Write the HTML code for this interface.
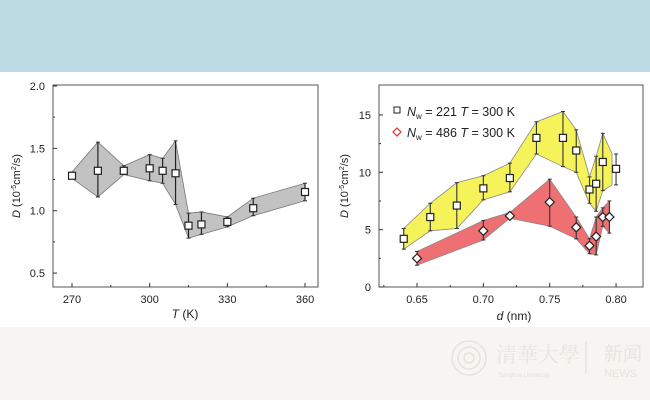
<!DOCTYPE html>
<html><head><meta charset="utf-8"><style>
body{margin:0;width:650px;height:400px;overflow:hidden;background:#fff;font-family:"Liberation Sans",Arial,sans-serif}
</style></head><body>
<svg id="s" width="650" height="400" xmlns="http://www.w3.org/2000/svg" font-family="Liberation Sans, Arial, sans-serif">
<rect x="0" y="0" width="650" height="72" fill="#bddbe3"/>
<rect x="0" y="72" width="650" height="255" fill="#fff"/>
<rect x="0" y="327" width="650" height="73" fill="#f7f5f1"/>
<g fill="none" stroke="#e6e2dc" stroke-width="1.5">
<circle cx="469" cy="358" r="17"/><circle cx="469" cy="358" r="11"/><circle cx="469" cy="358" r="5"/>
<line x1="586" y1="342" x2="586" y2="374"/>
</g>
<text x="496" y="362" font-size="21" fill="#e8e4de" font-family="Noto Serif CJK SC, serif">清華大學</text>
<text x="498" y="377" font-size="6" fill="#e3dfd8">Tsinghua University</text>
<text x="604" y="360" font-size="19" fill="#e8e4de" font-family="Noto Sans CJK SC, sans-serif">新闻</text>
<text x="604" y="377" font-size="11" fill="#e8e4de">NEWS</text>
<g id="g"></g>
</svg>
<script>
const g=document.getElementById('g');let h='';
function ln(a,b,c,d,w,col){h+=`<line x1="${a}" y1="${b}" x2="${c}" y2="${d}" stroke="${col||'#333'}" stroke-width="${w||1}"/>`;}
function tx(x,y,t,o){h+=`<text x="${x}" y="${y}" font-size="${o&&o.fs||11}" text-anchor="${o&&o.a||'middle'}" fill="#222">${t}</text>`;}
const LX=t=>72+(t-270)*2.589, LY=v=>86+(2-v)*124.7;
h+=`<rect x="53" y="85" width="265" height="202" fill="none" stroke="#555" stroke-width="1"/>`;
const L=[[270,1.28,1.26,1.31],[280,1.32,1.11,1.55],[290,1.32,1.29,1.36],[300,1.34,1.24,1.45],[305,1.32,1.22,1.42],[310,1.30,1.05,1.56],[315,0.88,0.78,0.98],[320,0.89,0.81,0.99],[330,0.91,0.87,0.95],[340,1.02,0.96,1.10],[360,1.15,1.08,1.22]];
let p=L.map(d=>LX(d[0])+','+LY(d[3])).concat(L.slice().reverse().map(d=>LX(d[0])+','+LY(d[2])));
h+=`<polygon points="${p.join(' ')}" fill="#c2c2c2" stroke="#777" stroke-width="0.8"/>`;
[2.0,1.5,1.0,0.5].forEach(v=>{ln(53,LY(v),57,LY(v));tx(45,LY(v)+4,v.toFixed(1),{a:'end'});});
[1.75,1.25,0.75].forEach(v=>ln(53,LY(v),55,LY(v)));
[270,300,330,360].forEach(t=>{ln(LX(t),287,LX(t),283);tx(LX(t),303,t);});
[285,315,345].forEach(t=>ln(LX(t),287,LX(t),285));
L.forEach(d=>{const x=LX(d[0]);ln(x,LY(d[2]),x,LY(d[3]),1.2,'#222');ln(x-2,LY(d[2]),x+2,LY(d[2]));ln(x-2,LY(d[3]),x+2,LY(d[3]));h+=`<rect x="${x-3.5}" y="${LY(d[1])-3.5}" width="7" height="7" fill="#fff" stroke="#222" stroke-width="1.2"/>`;});
tx(185,318,'<tspan font-style="italic">T</tspan> (K)',{fs:12});
h+=`<text transform="translate(20,186) rotate(-90)" font-size="11" text-anchor="middle" fill="#222"><tspan font-style="italic">D</tspan> (10<tspan dy="-4" font-size="7">-5</tspan><tspan dy="4">cm</tspan><tspan dy="-4" font-size="7">2</tspan><tspan dy="4">/s)</tspan></text>`;
const RX=d=>417+(d-0.65)*1327, RY=v=>287-v*11.47;
h+=`<rect x="379" y="85" width="264" height="202" fill="none" stroke="#555" stroke-width="1"/>`;
const Y=[[0.64,4.2,3.3,5.1],[0.66,6.1,4.9,7.3],[0.68,7.1,5.1,9.1],[0.70,8.6,7.6,9.7],[0.72,9.5,8.3,10.8],[0.74,13.0,11.6,14.4],[0.76,13.0,10.5,15.3],[0.77,11.9,10.0,13.7],[0.78,8.5,7.3,9.6],[0.785,9.0,6.6,11.4],[0.79,10.9,8.4,13.4],[0.797,10.3,8.9,11.6]];
const R=[[0.65,2.5,1.9,3.1],[0.70,4.9,4.1,5.8],[0.72,6.2,6.0,6.5],[0.75,7.4,5.3,9.4],[0.77,5.2,4.2,6.1],[0.78,3.6,2.9,4.2],[0.785,4.4,2.8,6.1],[0.79,6.1,5.3,6.9],[0.795,6.1,4.7,7.5]];
function band(D,f){const q=D.map(d=>RX(d[0])+','+RY(d[3])).concat(D.slice().reverse().map(d=>RX(d[0])+','+RY(d[2])));h+=`<polygon points="${q.join(' ')}" fill="${f}" stroke="#888" stroke-width="0.8"/>`;}
band(Y,'#f5f25a');band(R,'#ee7072');
[0,5,10,15].forEach(v=>{ln(379,RY(v),383,RY(v));tx(371,RY(v)+4,v,{a:'end'});});
[2.5,7.5,12.5].forEach(v=>ln(379,RY(v),381,RY(v)));
[0.65,0.70,0.75,0.80].forEach(d=>{ln(RX(d),287,RX(d),283);tx(RX(d),303,d.toFixed(2));});
[0.675,0.725,0.775,0.625].forEach(d=>ln(RX(d),287,RX(d),285));
function eb(D){D.forEach(d=>{const x=RX(d[0]);ln(x,RY(d[2]),x,RY(d[3]),1.1,'#333');ln(x-2,RY(d[2]),x+2,RY(d[2]));ln(x-2,RY(d[3]),x+2,RY(d[3]));});}
eb(Y.slice(0,11));eb([[0.80,10.3,8.9,11.6]]);eb(R);
Y.slice(0,11).concat([[0.80,10.3]]).forEach(d=>{const x=RX(d[0]),y=RY(d[1]);h+=`<rect x="${x-3.5}" y="${y-3.5}" width="7" height="7" fill="#fff" stroke="#222" stroke-width="1.2"/>`;});
R.forEach(d=>{const x=RX(d[0]),y=RY(d[1]);h+=`<polygon points="${x},${y-4.5} ${x+4.5},${y} ${x},${y+4.5} ${x-4.5},${y}" fill="#fff" stroke="#222" stroke-width="1.2"/>`;});
h+=`<rect x="394" y="107" width="6" height="6" fill="#fff" stroke="#222" stroke-width="1"/>`;
h+=`<polygon points="397,128 401,132 397,136 393,132" fill="#fff" stroke="#e03030" stroke-width="1.2"/>`;
h+=`<text x="407" y="116" font-size="12.5" fill="#222"><tspan font-style="italic">N</tspan><tspan font-size="8" dy="3">w</tspan><tspan dy="-3"> = 221 </tspan><tspan font-style="italic">T</tspan> = 300 K</text>`;
h+=`<text x="407" y="137" font-size="12.5" fill="#222"><tspan font-style="italic">N</tspan><tspan font-size="8" dy="3">w</tspan><tspan dy="-3"> = 486 </tspan><tspan font-style="italic">T</tspan> = 300 K</text>`;
tx(514,320,'<tspan font-style="italic">d</tspan> (nm)',{fs:12});
h+=`<text transform="translate(348,186) rotate(-90)" font-size="11" text-anchor="middle" fill="#222"><tspan font-style="italic">D</tspan> (10<tspan dy="-4" font-size="7">-5</tspan><tspan dy="4">cm</tspan><tspan dy="-4" font-size="7">2</tspan><tspan dy="4">/s)</tspan></text>`;
g.innerHTML=h;
</script>
</body></html>
